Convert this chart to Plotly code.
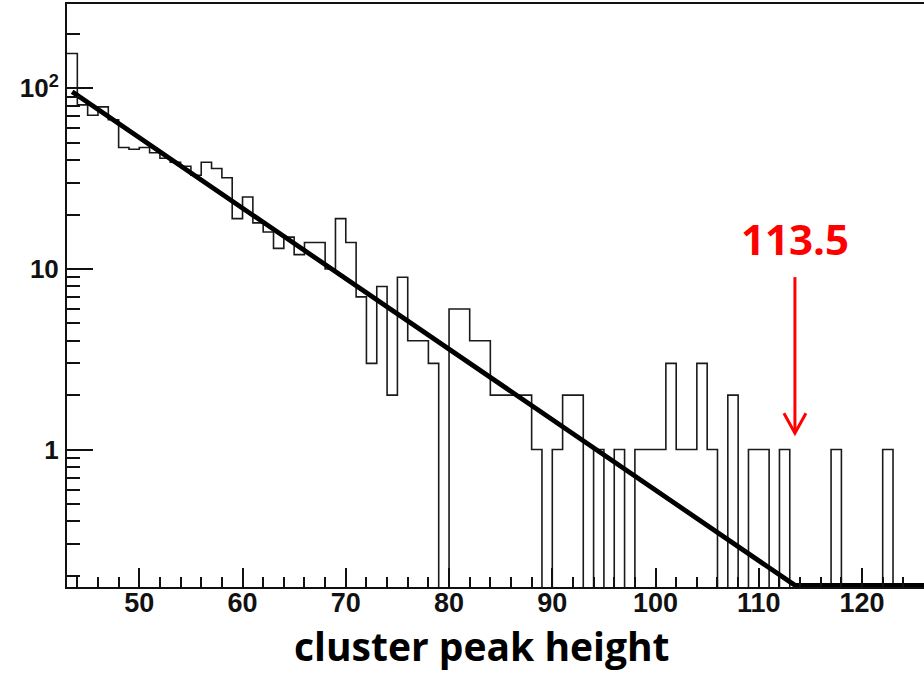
import plotly.graph_objects as go

# ---------------- data ----------------
bin_lo = 43          # left edge of first bin
bin_width = 1
counts = [156, 81, 71, 79, 67, 47, 46, 47, 44, 41,   # 43-52
          39, 37, 33, 39, 36, 32, 19, 25, 18, 16,    # 53-62
          13, 15, 12, 14, 14, 10, 19, 14, 7, 3,      # 63-72
          8, 2, 9, 4, 4, 3, 0, 6, 6, 4,              # 73-82
          4, 2, 2, 2, 2, 1, 0, 1, 2, 2,              # 83-92
          0, 1, 0, 1, 0, 1, 1, 1, 3, 1,              # 93-102
          1, 3, 1, 0, 2, 0, 1, 1, 0, 1,              # 103-112
          0, 0, 0, 0, 1, 0, 0, 0, 0, 1,              # 113-122
          0, 0, 0]                                   # 123-125

# exponential fit, drawn as a straight line on the log axis, clipped at the frame bottom
fit_x = [43.5, 113.5, 126.0]
fit_y = [95.7, 0.177, 0.177]

cut_value = 113.5

x_range = [43, 126]
y_range_log = [-0.7612, 2.4670]

x_major = [50, 60, 70, 80, 90, 100, 110, 120]
y_major = [1, 10, 100]
y_major_text = ["1", "10", "10<sup>2</sup>"]
y_minor = [0.2, 0.3, 0.4, 0.5, 0.6, 0.7, 0.8, 0.9,
           2, 3, 4, 5, 6, 7, 8, 9,
           20, 30, 40, 50, 60, 70, 80, 90, 200]

x_title = "cluster peak height"

# ---------------- build ----------------
edges = [bin_lo + i * bin_width for i in range(len(counts) + 1)]
off_scale = 1e-3  # empty bins drop below the frame (log axis)
hist_y = [c if c > 0 else off_scale for c in counts]
hist_y = hist_y + [hist_y[-1]]

fig = go.Figure()
fig.add_trace(go.Scatter(
    x=edges, y=hist_y, mode="lines", line=dict(shape="hv", color="#1a1a1a", width=1.6),
    hoverinfo="skip", showlegend=False))
fig.add_trace(go.Scatter(
    x=fit_x, y=fit_y, mode="lines", line=dict(color="black", width=4.8),
    hoverinfo="skip", showlegend=False))

axis_col = "#111111"
fig.update_xaxes(
    range=x_range, showgrid=False, zeroline=False,
    showline=True, linecolor=axis_col, linewidth=2, mirror=True,
    tickmode="array", tickvals=x_major, ticks="inside", ticklen=19, tickwidth=1.5,
    tickcolor=axis_col,
    minor=dict(tick0=44, dtick=2, ticks="inside", ticklen=10, tickwidth=1.5, tickcolor=axis_col),
    tickfont=dict(family="Liberation Sans Narrow, Liberation Sans, Arial", size=27,
                  color="#111111", weight="bold"),
    ticklabelstandoff=-9,
)
fig.update_yaxes(
    type="log", range=y_range_log, showgrid=False, zeroline=False,
    showline=True, linecolor=axis_col, linewidth=2, mirror=False,
    tickmode="array", tickvals=y_major, ticktext=y_major_text,
    ticks="inside", ticklen=26, tickwidth=1.5, tickcolor=axis_col,
    minor=dict(tickmode="array", tickvals=y_minor, ticks="inside", ticklen=13,
               tickwidth=1.5, tickcolor=axis_col),
    tickfont=dict(family="Liberation Sans, Arial", size=26, color="#111111", weight="bold"),
    ticklabelstandoff=1,
)

# red marker for the cut value
red = "#ff0000"
fig.add_annotation(x=cut_value, xref="x", y=0.597, yref="paper",
                   text=f"<b>{cut_value}</b>", showarrow=False,
                   font=dict(family="Open Sans, Noto Sans", size=42, color=red),
                   xanchor="center", yanchor="middle")
fig.add_shape(type="line", xref="x", yref="paper",
              x0=cut_value, x1=cut_value, y0=0.5315, y1=0.2665,
              line=dict(color=red, width=3))
fig.add_shape(type="path", xref="x", xsizemode="pixel", xanchor=cut_value,
              yref="paper", ysizemode="pixel", yanchor=0.2638,
              path="M -11,20 L 0,0 L 11,20",
              line=dict(color=red, width=3))

fig.add_annotation(x=0.4837, xref="paper", y=-0.101, yref="paper",
                   text=f"<b>{x_title}</b>", showarrow=False,
                   font=dict(family="Open Sans, Noto Sans", size=39, color="black"),
                   xanchor="center", yanchor="middle")

fig.update_layout(
    width=924, height=674,
    margin=dict(l=67, r=0, t=4, b=87),
    plot_bgcolor="white", paper_bgcolor="white",
)

fig.write_html("out.html")
